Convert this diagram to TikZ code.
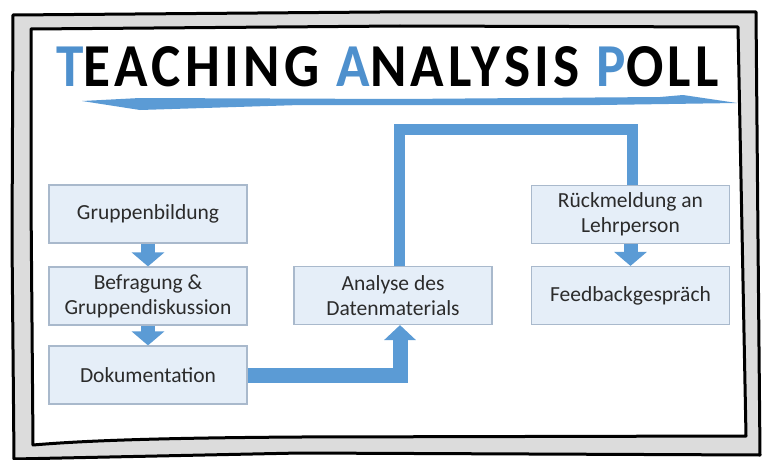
\documentclass[tikz,border=0pt]{standalone}
\usepackage{fontspec}
\setmainfont{Carlito}
\newfontfamily\titlefont[LetterSpace=8]{Carlito}
\usetikzlibrary{arrows.meta}
\definecolor{arrblue}{HTML}{5B9BD5}
\definecolor{tblue}{HTML}{4E90CD}
\definecolor{boxfill}{HTML}{E5EEF8}
\definecolor{boxline}{HTML}{A9B9CC}
\definecolor{txt}{HTML}{2B2B2B}
\definecolor{band}{HTML}{DCDCDC}
\newsavebox\titlebox

\begin{document}
\sbox\titlebox{\titlefont\bfseries{\color{tblue}T}EACHING {\color{tblue}A}NALYSIS {\color{tblue}P}OLL}
\begin{tikzpicture}[x=1pt,y=-1pt,
  box/.style={draw=boxline,line width=1.2pt,fill=boxfill,text=txt,align=center,minimum width=198pt,minimum height=58pt,inner sep=2pt,font=\fontsize{21.5}{25}\selectfont},
  down/.style={draw=arrblue,line width=14pt,-{Triangle[width=32pt,length=14pt]}},
  flow/.style={draw=arrblue,line width=15pt,-{Triangle[width=31pt,length=15pt]}},
  route/.style={draw=arrblue,line width=11pt},
  frame/.style={line width=3pt,line join=round}]
  \pgfmathsetmacro\tsx{663/\the\wd\titlebox}
  \pgfmathsetmacro\tsy{40/\the\ht\titlebox}
  \useasboundingbox (0,0) rectangle (763,460);
  \filldraw[frame,fill=band] (13,15) -- (380,12) -- (756,12) -- (758,240) -- (760,455) -- (300,453) -- (14,459) -- (12,240) -- cycle;
  \filldraw[frame,fill=white] (31,29) -- (400,26) -- (738,27) -- (742,230) -- (746,436) -- (300,437) .. controls (150,438) and (80,441) .. (33,445) -- (31,200) -- cycle;
  \fill[arrblue] (82,101) -- (140,98) -- (400,99) -- (660,97) -- (683,95) -- (737,103) -- (600,105) -- (300,105) -- (140,110) -- cycle;
  \node[anchor=south west,inner sep=0pt,xscale=\tsx,yscale=\tsy,transform shape] (title) at (55,88) {\usebox\titlebox};
  \node[box] (grp)   at (148,214)   {Gruppenbildung};
  \node[box] (bef)   at (148,296)   {Befragung \&\\Gruppendiskussion};
  \node[box] (dok)   at (148,375)   {Dokumentation};
  \node[box] (ana)   at (393,295.5) {Analyse des\\Datenmaterials};
  \node[box] (rueck) at (630.5,214.5) {Rückmeldung an\\Lehrperson};
  \node[box] (feed)  at (630.5,295.5) {Feedbackgespräch};
  \draw[down] (grp) -- (bef);
  \draw[down] (bef) -- (dok);
  \draw[flow] (dok.east) -| ([xshift=7pt]ana.south);
  \draw[route] ([xshift=6pt]ana.north) -- ++(0,-136) -| ([xshift=1.5pt]rueck.north);
  \draw[down] (rueck) -- (feed);
\end{tikzpicture}
\end{document}
